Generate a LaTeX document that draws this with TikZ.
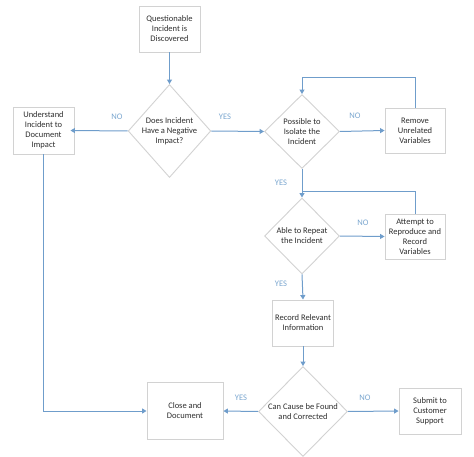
\documentclass[tikz,border=0pt]{standalone}
\usepackage{fontspec}
\setmainfont{Carlito}
\usetikzlibrary{shapes.geometric,arrows.meta}
\definecolor{lineblue}{HTML}{6F9DCB}
\definecolor{lblblue}{HTML}{7AA6CF}
\definecolor{boxgray}{HTML}{D2D2D2}
\definecolor{txt}{HTML}{2F2F2F}
\tikzset{
  x=1pt,y=-1pt,
  boxnode/.style={draw=boxgray,line width=0.9pt,fill=white,minimum width=#1,inner sep=0pt,align=center,text=txt,font=\fontsize{8.5}{10}\selectfont},
  dia/.style={draw=boxgray,line width=0.9pt,fill=white,shape=diamond,inner sep=0pt,align=center,text=txt,font=\fontsize{8.5}{10}\selectfont},
  arr/.style={draw=lineblue,line width=1pt,-{Triangle[width=5pt,length=4.5pt]}},
  plain/.style={draw=lineblue,line width=1pt},
  lbl/.style={text=lblblue,font=\fontsize{8.5}{10}\selectfont}
}
\begin{document}
\begin{tikzpicture}
\useasboundingbox (0,0) rectangle (474,457);
\node[boxnode=61pt,minimum height=46pt] (q) at (169.5,29) {Questionable\\Incident is\\Discovered};
\node[dia,minimum width=75pt,minimum height=93pt] (d1) at (169.5,131) {Does Incident\\Have a Negative\\Impact?};
\node[boxnode=61pt,minimum height=47pt] (und) at (43.5,130.5) {Understand\\Incident to\\Document\\Impact};
\node[dia,minimum width=75pt,minimum height=74pt] (d2) at (302,131.5) {Possible to\\Isolate the\\Incident};
\node[boxnode=60pt,minimum height=45pt] (rem) at (415,130.5) {Remove\\Unrelated\\Variables};
\node[dia,minimum width=75pt,minimum height=76pt] (d3) at (302,236) {Able to Repeat\\the Incident};
\node[boxnode=60pt,minimum height=45pt] (att) at (415,236.5) {Attempt to\\Reproduce and\\Record\\Variables};
\node[boxnode=61pt,minimum height=46pt] (rec) at (303,323) {Record Relevant\\Information};
\node[dia,minimum width=89pt,minimum height=90pt] (d4) at (303,411.5) {Can Cause be Found\\and Corrected};
\node[boxnode=76pt,minimum height=57pt] (close) at (185,411) {Close and\\Document};
\node[boxnode=62pt,minimum height=46pt] (sub) at (430,411) {Submit to\\Customer\\Support};
\coordinate (l1) at (302,77.5);
\coordinate (l2) at (302,191.5);
\draw[arr] (q.south) -- (d1.north);
\draw[arr] (d1.west) -- ([xshift=-4pt]und.east);
\draw[arr] (d1.east) -- (d2.west);
\draw[arr] (d2.east) -- (rem.west);
\draw[arr] (rem.north) |- (l1) -- (d2.north);
\draw[arr] (d2.south) -- (d3.north);
\draw[plain] (att.north) |- (l2);
\draw[arr] (d3.east) -- (att.west);
\draw[arr] (d3.south) -- (rec.north);
\draw[arr] (rec.south) -- (d4.north);
\draw[arr] (d4.west) -- (close.east);
\draw[arr] (d4.east) -- (sub.west);
\draw[arr] (und.south) |- (close.west);
\node[lbl] (n1) at (117,117) {NO};
\node[lbl] (y1) at (225,117) {YES};
\node[lbl] (n2) at (355,116) {NO};
\node[lbl] (y2) at (281,183) {YES};
\node[lbl] (n3) at (363,223) {NO};
\node[lbl] (y3) at (281,284) {YES};
\node[lbl] (y4) at (241,398) {YES};
\node[lbl] (n4) at (365,398) {NO};
\end{tikzpicture}
\end{document}
